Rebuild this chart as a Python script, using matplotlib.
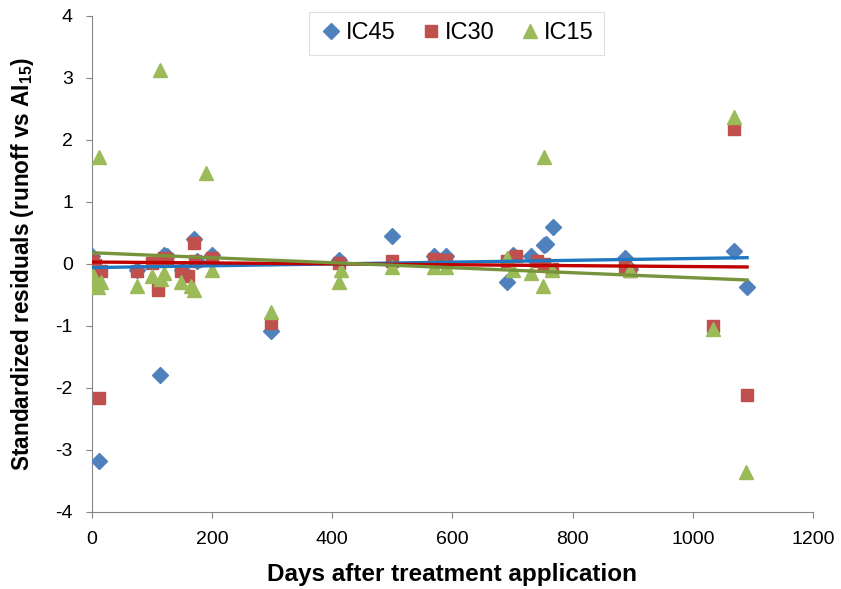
import numpy as np
import matplotlib
matplotlib.use('Agg')
from matplotlib import pyplot as plt

plt.rcParams['font.family'] = ['Liberation Sans', 'DejaVu Sans']
plt.rcParams['mathtext.fontset'] = 'custom'
plt.rcParams['mathtext.rm'] = 'Liberation Sans'
plt.rcParams['mathtext.bf'] = 'Liberation Sans:bold'
plt.rcParams['axes.unicode_minus'] = False

# residuals
ic45_days = [0, 12, 75, 113, 120, 125, 150, 170, 175, 200, 298, 412, 500, 570, 590,
             690, 700, 730, 752, 756, 767, 887, 895, 1068, 1090]
ic45_res = [0.12, -3.18, -0.1, -1.8, 0.15, 0.12, -0.1, 0.4, 0.05, 0.15, -1.08, 0.07, 0.45, 0.12, 0.12,
            -0.3, 0.15, 0.12, 0.3, 0.32, 0.6, 0.1, -0.08, 0.2, -0.37]

ic30_days = [0, 5, 12, 15, 75, 100, 110, 120, 125, 148, 160, 170, 172, 200, 298, 412, 500, 570, 590,
             690, 705, 740, 752, 765, 887, 895, 1033, 1068, 1090]
ic30_res = [0.05, -0.02, -2.17, -0.12, -0.12, 0.02, -0.42, 0.1, 0.08, -0.12, -0.2, 0.33, 0.05, 0.1, -0.95,
            0.02, 0.05, 0.08, 0.06, 0.05, 0.12, 0.05, 0.0, -0.08, -0.05, -0.12, -1.0, 2.17, -2.12]

ic15_days = [0, 5, 10, 12, 15, 75, 100, 113, 115, 120, 148, 165, 170, 190, 200, 298, 412, 415, 500,
             570, 590, 690, 700, 730, 750, 752, 765, 895, 1033, 1068, 1088]
ic15_res = [-0.15, -0.32, -0.38, 1.72, -0.3, -0.35, -0.2, 3.13, -0.25, -0.15, -0.3, -0.35, -0.42, 1.47, -0.1,
            -0.78, -0.3, -0.1, -0.05, -0.05, -0.05, 0.1, -0.1, -0.15, -0.35, 1.73, -0.1, -0.1, -1.05, 2.37, -3.35]

# linear trend lines (end points)
trend_days = [0, 1090]
trend_ic45 = [-0.06, 0.1]
trend_ic30 = [0.03, -0.05]
trend_ic15 = [0.18, -0.26]

fig = plt.figure(figsize=(8.41, 5.89), dpi=100)
ax = fig.add_axes([0.109, 0.131, 0.858, 0.842])

ax.plot(ic45_days, ic45_res, 'D', color='#4F81BD', markersize=8, label='IC45', zorder=3)
ax.plot(ic30_days, ic30_res, 's', color='#C0504D', markersize=9, label='IC30', zorder=4)
ax.plot(ic15_days, ic15_res, '^', color='#9BBB59', markersize=10, label='IC15', zorder=5)

ax.plot(trend_days, trend_ic45, '-', color='#1F78C1', lw=2.4, zorder=6)
ax.plot(trend_days, trend_ic30, '-', color='#C00000', lw=2.4, zorder=6)
ax.plot(trend_days, trend_ic15, '-', color='#77933C', lw=2.4, zorder=6)

ax.set_xlim(0, 1200)
ax.set_ylim(-4, 4)
ax.set_xticks(np.arange(0, 1201, 200))
ax.set_yticks(np.arange(-4, 5, 1))
ax.tick_params(labelsize=14, direction='out', length=4.5, color='#868686')
ax.tick_params(axis='x', pad=9)
ax.tick_params(axis='y', pad=9)
for s in ['top', 'right']:
    ax.spines[s].set_visible(False)
for s in ['left', 'bottom']:
    ax.spines[s].set_color('#868686')

ax.set_xlabel('Days after treatment application', fontsize=17.5, fontweight='bold', labelpad=11)
ax.set_ylabel(r'Standardized residuals (runoff vs AI$_{\mathbf{15}}$)', fontsize=16.3,
              fontweight='bold', labelpad=14)

leg = fig.legend(loc='upper center', bbox_to_anchor=(0.543, 1.0), ncol=3, fontsize=17,
                 handletextpad=0.1, columnspacing=1.0, fancybox=False, borderpad=0.45,
                 handlelength=1.0)
leg.get_frame().set_edgecolor('#D9D9D9')
leg.get_frame().set_linewidth(0.8)

fig.savefig('out.png', dpi=100)
